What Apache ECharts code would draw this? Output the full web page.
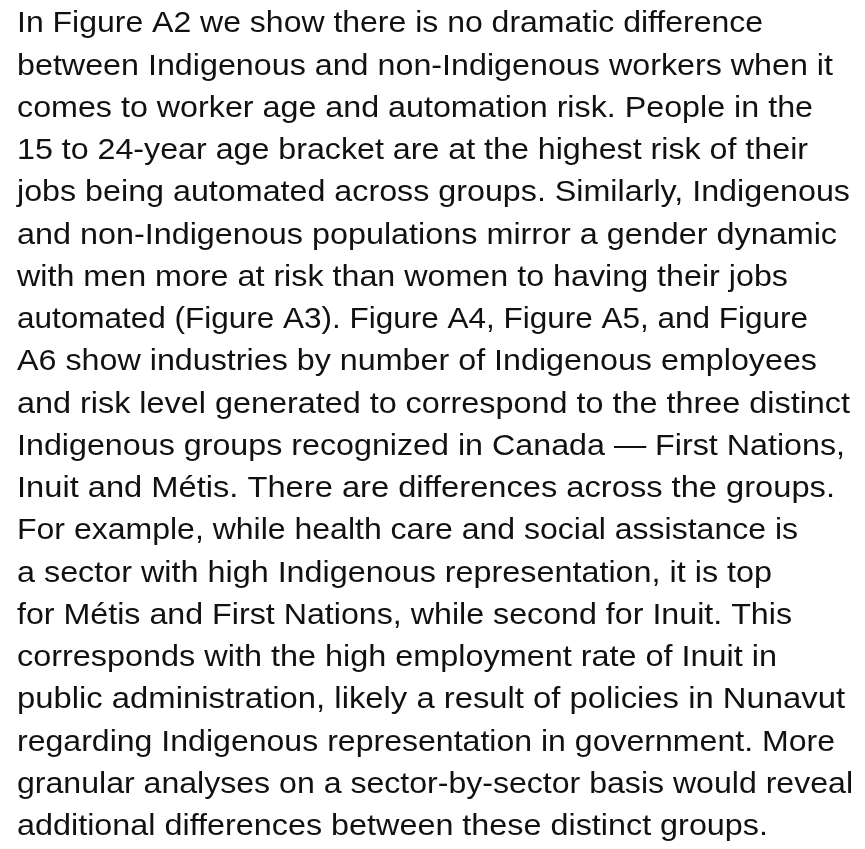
<!DOCTYPE html>
<html>
<head>
<meta charset="utf-8">
<script src="https://cdn.jsdelivr.net/npm/echarts@6/dist/echarts.min.js"></script>
<style>
  html, body { margin: 0; padding: 0; background: #fff; }
  #main { width: 865px; height: 849px; }
</style>
</head>
<body>
<div id="main"></div>
<script>
// paragraph lines as they are broken in the picture
var lines = [
    'In Figure A2 we show there is no dramatic difference',
    'between Indigenous and non-Indigenous workers when it',
    'comes to worker age and automation risk. People in the',
    '15 to 24-year age bracket are at the highest risk of their',
    'jobs being automated across groups. Similarly, Indigenous',
    'and non-Indigenous populations mirror a gender dynamic',
    'with men more at risk than women to having their jobs',
    'automated (Figure A3). Figure A4, Figure A5, and Figure',
    'A6 show industries by number of Indigenous employees',
    'and risk level generated to correspond to the three distinct',
    'Indigenous groups recognized in Canada \u2014 First Nations,',
    'Inuit and M\u00e9tis. There are differences across the groups.',
    'For example, while health care and social assistance is',
    'a sector with high Indigenous representation, it is top',
    'for M\u00e9tis and First Nations, while second for Inuit. This',
    'corresponds with the high employment rate of Inuit in',
    'public administration, likely a result of policies in Nunavut',
    'regarding Indigenous representation in government. More',
    'granular analyses on a sector-by-sector basis would reveal',
    'additional differences between these distinct groups.'
];

// where each line ends on the right (layout only)
var lineEnds = [763, 833, 813, 808, 850, 837, 788, 808, 817, 850,
                845, 835, 798, 772, 792, 777, 845, 835, 853, 768];

var fontSize = 30;
var fontFamily = '"Liberation Sans", Arial, Helvetica, sans-serif';
var left = 17;
var firstBottom = 39;
var lineHeight = 42.26;

var ctx = document.createElement('canvas').getContext('2d');
ctx.font = fontSize + 'px ' + fontFamily;

var elements = lines.map(function (t, i) {
    var w = ctx.measureText(t).width;
    var sx = (lineEnds[i] - left) / w;
    return {
        type: 'text',
        x: left,
        y: firstBottom + i * lineHeight,
        scaleX: sx,
        style: {
            text: t,
            fontSize: fontSize,
            fontFamily: fontFamily,
            fill: '#111',
            verticalAlign: 'bottom'
        }
    };
});

var myChart = echarts.init(document.getElementById('main'));
var option = {
    backgroundColor: '#fff',
    graphic: elements
};
myChart.setOption(option);
</script>
</body>
</html>
